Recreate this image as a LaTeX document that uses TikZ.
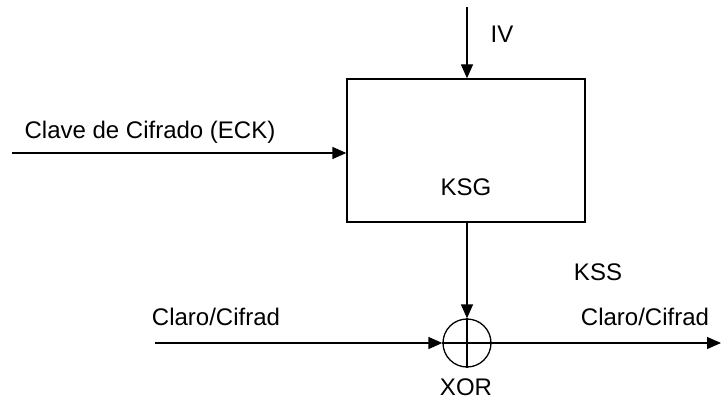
\documentclass[tikz,border=0pt]{standalone}
\usepackage{fontspec}
\setmainfont{Liberation Sans}
\usepackage{tikz}
\usetikzlibrary{positioning,arrows.meta}

\begin{document}
\begin{tikzpicture}[x=1pt, y=-1pt, line width=1.3pt,
    >={Triangle[length=14pt,width=12pt]},
    every node/.style={font=\fontsize{24}{28}\selectfont},
    blockbox/.style={draw, minimum width=238pt, minimum height=143pt, inner sep=0pt},
    xorgate/.style={draw, circle, minimum size=48pt, inner sep=0pt}]
    \useasboundingbox (0,0) rectangle (721,401);
    \node[blockbox] (ksg) at (466,150.5) {};
    \node[draw=none] (ksglbl) at (466,187) {KSG};
    \node[xorgate] (xor) at (467,343) {};
    \draw (xor.north) -- (xor.south);
    \draw (xor.west) -- (xor.east);
    \coordinate (ivin) at (467,7);
    \coordinate (eckin) at (12,153);
    \coordinate (datain) at (155,343);
    \coordinate (dataout) at (721,343);
    % entradas
    \draw[->] (ivin) -- (ivin |- ksg.north);
    \draw[->] (eckin) -- (eckin -| ksg.west);
    \draw[->] (ksg.south -| xor.north) -- (xor.north);
    \draw[->] (datain) -- (xor.west);
    \draw[->] (xor.east) -- (dataout);
    % textos
    \node (iv) at (502,34) {IV};
    \node (eck) at (150,132) {Clave de Cifrado (ECK)};
    \node (kss) at (598,272) {KSS};
    \node (claroin) at (216,317) {Claro/Cifrad};
    \node (claroout) at (645,317) {Claro/Cifrad};
    \node[inner sep=1pt] (xorlbl) at (466,387) {XOR};
  \end{tikzpicture}
\end{document}
